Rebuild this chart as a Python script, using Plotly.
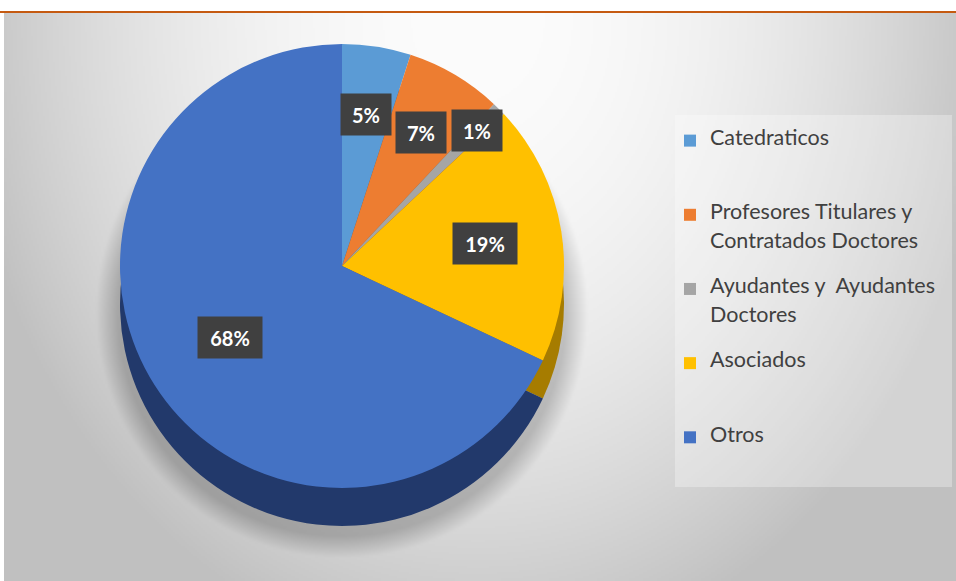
import base64
import struct
import zlib

import numpy as np
import plotly.graph_objects as go

# ---------------- data ----------------
categories = [
    "Catedraticos",
    "Profesores Titulares y Contratados Doctores",
    "Ayudantes y  Ayudantes Doctores",
    "Asociados",
    "Otros",
]
legend_lines = [
    ["Catedraticos"],
    ["Profesores Titulares y", "Contratados Doctores"],
    ["Ayudantes y  Ayudantes", "Doctores"],
    ["Asociados"],
    ["Otros"],
]
values = [5, 7, 1, 19, 68]

# ---------------- style ----------------
W, H = 956, 581
top_colors = ["#5B9BD5", "#ED7D31", "#A5A5A5", "#FFC000", "#4472C4"]
side_colors = ["#2F5F8A", "#9B4A17", "#6B6B6B", "#A67C00", "#22396B"]
CX, CY, R, DEPTH = 342, 266, 222, 38
label_radius = [0.69, 0.70, 0.86, 0.65, 0.60]
LEG_TEXT_SIZE = 21.5
NBSP = "\u00a0"


def domain(cx, cy, r):
    return dict(x=[(cx - r) / W, (cx + r) / W], y=[1 - (cy + r) / H, 1 - (cy - r) / H])


# legend entries: visible lines on slots 1 and 3 of a 5-slot block
legend_labels = []
for lines in legend_lines:
    slots = [NBSP] * 5
    for k, ln in enumerate(lines):
        slots[2 * k] = f'<span style="font-size:{LEG_TEXT_SIZE}px">{ln}</span>'
    legend_labels.append("<br>".join(slots))

# ---------------- background gradient image ----------------
BX0, BY0 = 4, 13
bw, bh = (W - BX0) // 2, (H - BY0) // 2
px = BX0 + (np.arange(bw) + 0.5) * 2
py = BY0 + (np.arange(bh) + 0.5) * 2
PX, PY = np.meshgrid(px, py)
s2 = ((PX - 478) / 500.0) ** 2 + ((PY - 20) / 620.0) ** 2
gray = np.clip(252 - 55 * s2, 192, 252)
# soft shadow under the pie
d = np.sqrt((PX - CX) ** 2 + (PY - (CY + DEPTH + 8)) ** 2) - (R + 2)
gray = gray - 45 * np.clip(1 - d / 22.0, 0, 1)
img = np.clip(gray, 0, 255).astype(np.uint8)
rgb = np.stack([img, img, img], axis=2)


def png_uri(arr):
    h, w, _ = arr.shape
    raw = b"".join(b"\x00" + arr[j].tobytes() for j in range(h))

    def chunk(tag, data):
        return (struct.pack(">I", len(data)) + tag + data
                + struct.pack(">I", zlib.crc32(tag + data) & 0xFFFFFFFF))

    png = (b"\x89PNG\r\n\x1a\n"
           + chunk(b"IHDR", struct.pack(">IIBBBBB", w, h, 8, 2, 0, 0, 0))
           + chunk(b"IDAT", zlib.compress(raw, 9))
           + chunk(b"IEND", b""))
    return "data:image/png;base64," + base64.b64encode(png).decode()


fig = go.Figure()

# side (depth) of the 3D pie
fig.add_trace(go.Pie(
    labels=legend_labels, values=values, sort=False, direction="clockwise", rotation=0,
    marker=dict(colors=side_colors, line=dict(width=0)),
    textinfo="none", hoverinfo="skip", showlegend=False,
    domain=domain(CX, CY + DEPTH, R),
))
# top face
fig.add_trace(go.Pie(
    labels=legend_labels, values=values, sort=False, direction="clockwise", rotation=0,
    marker=dict(colors=top_colors, line=dict(width=0)),
    textinfo="none", customdata=categories,
    hovertemplate="%{customdata}: %{percent}<extra></extra>",
    domain=domain(CX, CY, R),
))

# boxed percentage labels at slice mid-angles
total = sum(values)
annotations = []
cum = 0
for v, f in zip(values, label_radius):
    theta = np.deg2rad(360 * (cum + v / 2) / total)
    cum += v
    x_px = CX + f * R * np.sin(theta)
    y_px = CY - f * R * np.cos(theta)
    txt = f"{v / total * 100:.0f}%"
    annotations.append(dict(
        x=x_px / W, y=1 - y_px / H, xref="paper", yref="paper",
        xanchor="center", yanchor="middle",
        text=f"<b>{txt}</b>", showarrow=False,
        font=dict(family="Lato", size=20, color="white"),
        bgcolor="#404040", borderpad=7, width=14 * len(txt) + 8, height=27,
    ))

shapes = [
    # legend panel
    dict(type="rect", xref="paper", yref="paper",
         x0=675 / W, x1=952 / W, y0=1 - 487 / H, y1=1 - 115 / H,
         fillcolor="rgba(255,255,255,0.3)", line=dict(width=0), layer="below"),
    # orange top rule
    dict(type="line", xref="paper", yref="paper",
         x0=0, x1=1, y0=1 - 12 / H, y1=1 - 12 / H,
         line=dict(color="#C55A11", width=2), layer="above"),
]

fig.update_layout(
    width=W, height=H,
    margin=dict(l=0, r=0, t=0, b=0),
    paper_bgcolor="white", plot_bgcolor="white",
    images=[dict(source=png_uri(rgb), xref="paper", yref="paper",
                 x=BX0 / W, y=1 - BY0 / H, sizex=(W - BX0) / W, sizey=(H - BY0) / H,
                 xanchor="left", yanchor="top", sizing="stretch", layer="below")],
    shapes=shapes,
    annotations=annotations,
    legend=dict(
        x=670 / W, y=1 - 127 / H, xanchor="left", yanchor="top",
        bgcolor="rgba(0,0,0,0)", valign="top", traceorder="normal",
        font=dict(family="Lato", size=10.95, color="#404040"),
    ),
    font=dict(family="Lato"),
)

fig.write_html("out.html", config={"displayModeBar": False},
               post_script="document.body.style.margin='0px';")
